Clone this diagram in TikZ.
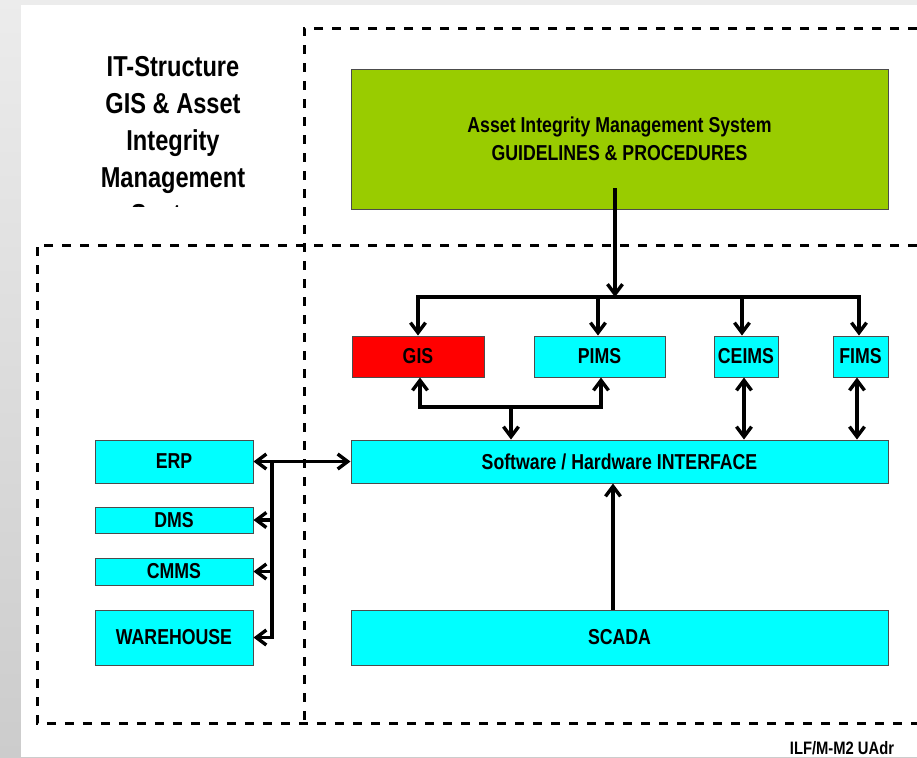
\documentclass[tikz,border=0pt]{standalone}
\usepackage{fontspec}
\setmainfont{Liberation Sans}[FakeStretch=0.82]
\usetikzlibrary{arrows.meta}
\definecolor{aimsgreen}{RGB}{153,204,0}
\definecolor{boxcyan}{RGB}{0,255,255}
\definecolor{boxred}{RGB}{255,0,0}
\tikzset{>={Straight Barb[length=5pt,width=7.5pt]}}
\tikzset{box/.style={draw=black!70, line width=0.5pt, fill=boxcyan, inner sep=0pt, align=center,
                     font=\fontsize{10.8}{14}\selectfont\bfseries},
         link/.style={line width=1.7pt},
         zone/.style={line width=1.5pt, dash pattern=on 4.3pt off 4.7pt}}

\begin{document}
\begin{tikzpicture}[x=0.5pt, y=-0.5pt]
			\useasboundingbox (0,0) rectangle (917,757);
			\shade [top color=gray!15, bottom color=gray!40] (0,0) rectangle (917,757);
			\fill [white] (21,5) rectangle (917,757);
			\begin{scope}
				\clip (21,5) rectangle (300,206.5);
				\node (title) [anchor=north, inner sep=0pt, align=center, font=\fontsize{14.4}{18.5}\selectfont\bfseries] at (173,56) {IT-Structure\\GIS \& Asset\\Integrity\\Management\\System};
			\end{scope}
			\draw [zone] (917,28) to (304,28) to (304,723);
			\draw [zone] (917,245) to (37,245) to (37,723) to (917,723);
			\node (aims) [box, fill=aimsgreen, minimum width=268.5pt, minimum height=70pt] at (619.5,139) {Asset Integrity Management System\\GUIDELINES \& PROCEDURES};
			\node (gis) [box, fill=boxred, minimum width=66pt, minimum height=20.5pt] at (418,356.5) {GIS};
			\node (pims) [box, minimum width=65.5pt, minimum height=20.5pt] at (599.5,356.5) {PIMS};
			\node (ceims) [box, minimum width=32pt, minimum height=20.5pt] at (746,356.5) {CEIMS};
			\node (fims) [box, minimum width=27.5pt, minimum height=20.5pt] at (860.5,356.5) {FIMS};
			\node (iface) [box, minimum width=268.5pt, minimum height=21.5pt] at (619.5,461.5) {Software / Hardware INTERFACE};
			\node (scada) [box, minimum width=268.5pt, minimum height=27.5pt] at (619.5,637.5) {SCADA};
			\node (erp) [box, minimum width=79pt, minimum height=21.5pt] at (174,461.5) {ERP};
			\node (dms) [box, minimum width=79pt, minimum height=13pt] at (174,520) {DMS};
			\node (cmms) [box, minimum width=79pt, minimum height=13.5pt] at (174,571.5) {CMMS};
			\node (wh) [box, minimum width=79pt, minimum height=27.5pt] at (174,637.5) {WAREHOUSE};
			\node (ref) [inner sep=0pt, font=\fontsize{9}{10}\selectfont\bfseries] at (842,748) {ILF/M-M2 UAdr};
			\coordinate (1) at (615,188);
			\coordinate (2) at (615,297);
			\coordinate (3) at (418,297);
			\coordinate (4) at (859,297);
			\coordinate (5) at (598,297);
			\coordinate (6) at (742,297);
			\coordinate (7) at (420,407);
			\coordinate (8) at (601,407);
			\coordinate (9) at (511,407);
			\coordinate (10) at (744,0);
			\coordinate (11) at (857,0);
			\coordinate (12) at (613,0);
			\coordinate (13) at (272,461.5);
			\draw [link, ->] (1) to (2);
			\draw [link, <->] (gis.north) to (3) to (4) to (4 |- fims.north);
			\draw [link, ->] (5) to (5 |- pims.north);
			\draw [link, ->] (6) to (6 |- ceims.north);
			\draw [link, <->] (7 |- gis.south) to (7) to (8) to (8 |- pims.south);
			\draw [link, ->] (9) to (9 |- iface.north);
			\draw [link, <->] (10 |- ceims.south) to (10 |- iface.north);
			\draw [link, <->] (11 |- fims.south) to (11 |- iface.north);
			\draw [link, ->] (12 |- scada.north) to (12 |- iface.south);
			\draw [link, <->] (erp.east) to (iface.west);
			\draw [link, ->] (13) to (13 |- wh.east) to (wh.east);
			\draw [link, ->] (13 |- dms.east) to (dms.east);
			\draw [link, ->] (13 |- cmms.east) to (cmms.east);
\end{tikzpicture}
\end{document}
